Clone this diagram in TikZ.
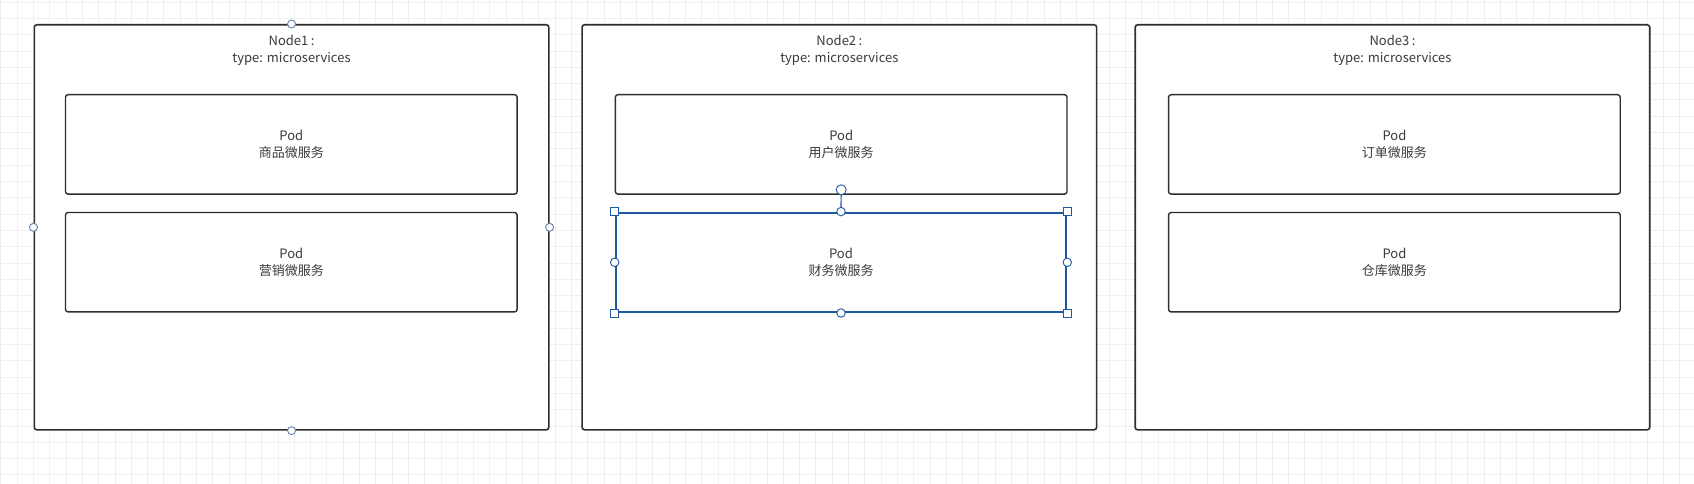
\documentclass[tikz,border=0pt]{standalone}
\usepackage{fontspec}
\setmainfont{Noto Sans CJK SC}
\definecolor{boxline}{HTML}{2E2E2E}
\definecolor{txt}{HTML}{3A3A3A}
\definecolor{gridc}{HTML}{F0F0F0}
\definecolor{handle}{HTML}{6A7FA8}
\definecolor{selblue}{HTML}{1F5AA0}
\newcommand{\ncolon}{\hspace{2.5pt}:\hspace{6pt}}
\begin{document}
\begin{tikzpicture}[x=1pt,y=-1pt,
  nodebox/.style={draw=boxline, line width=1.6pt, rounded corners=2.5pt, fill=white, anchor=north west, inner sep=0, minimum width=514.5pt, minimum height=405pt},
  podbox/.style={draw=boxline, line width=1.4pt, rounded corners=2.5pt, fill=white, anchor=north west, inner sep=0, minimum width=451.6pt, minimum height=99.4pt},
  selbox/.style={draw=selblue, line width=2pt, fill=white, anchor=north west, inner sep=0, minimum width=450.6pt, minimum height=99.4pt},
  lbl/.style={align=center, font=\fontsize{13}{17}\selectfont, text=txt},
  hcirc/.style={circle, draw=handle, fill=white, line width=0.9pt, minimum size=8pt, inner sep=0},
  scirc/.style={circle, draw=selblue, fill=white, line width=0.9pt, minimum size=8.5pt, inner sep=0},
  ssq/.style={rectangle, draw=selblue, fill=white, line width=0.9pt, minimum size=8pt, inner sep=0},
]
\useasboundingbox (0,0) rectangle (1694,484);
\fill[white] (0,0) rectangle (1694,484);
% grid
\foreach \i in {0,...,104} \draw[gridc, line width=0.6pt] ({0.7+\i*16.3},0) -- ({0.7+\i*16.3},484);
\foreach \j in {0,...,30} \draw[gridc, line width=0.6pt] (0,{2+\j*16.3}) -- (1694,{2+\j*16.3});

% Node boxes
\node[nodebox] (n1) at (33.5,24) {};
\node[nodebox] (n2) at (581.3,24) {};
\node[nodebox] (n3) at (1134.4,24) {};

\node[lbl] (t1) at ([yshift=-26.5pt]n1.north) {Node1\ncolon\\type: microservices};
\node[lbl] (t2) at ([yshift=-26.5pt]n2.north) {Node2\ncolon\\type: microservices};
\node[lbl] (t3) at ([yshift=-26.5pt]n3.north) {Node3\ncolon\\type: microservices};

% Pods
\node[podbox] (p11) at (64.8,94) {};
\node[podbox] (p12) at (64.8,211.8) {};
\node[podbox] (p21) at (614.7,94) {};
\node[selbox] (p22) at (614.7,211.6) {};
\node[podbox] (p31) at (1167.9,94) {};
\node[podbox] (p32) at (1167.9,211.8) {};

\node[lbl] (l11) at (p11.center) {Pod\\商品微服务};
\node[lbl] (l12) at (p12.center) {Pod\\营销微服务};
\node[lbl] (l21) at (p21.center) {Pod\\用户微服务};
\node[lbl] (l22) at (p22.center) {Pod\\财务微服务};
\node[lbl] (l31) at (p31.center) {Pod\\订单微服务};
\node[lbl] (l32) at (p32.center) {Pod\\仓库微服务};

% handles on Node1
\node[hcirc] (h1n) at (n1.north) {};
\node[hcirc] (h1s) at (n1.south) {};
\node[hcirc] (h1w) at (n1.west) {};
\node[hcirc] (h1e) at (n1.east) {};

% selection handles on pod 2-2
\coordinate (rot) at ([yshift=5pt]p21.south);
\draw[selblue, line width=1.2pt] (rot) -- (p22.north);
\node[scirc, minimum size=10pt] (hr) at (rot) {};
\node[ssq] (s1) at (p22.north west) {};
\node[ssq] (s2) at (p22.north east) {};
\node[ssq] (s3) at (p22.south west) {};
\node[ssq] (s4) at (p22.south east) {};
\node[scirc] (c1) at (p22.north) {};
\node[scirc] (c2) at (p22.south) {};
\node[scirc] (c3) at (p22.west) {};
\node[scirc] (c4) at (p22.east) {};
\end{tikzpicture}
\end{document}
